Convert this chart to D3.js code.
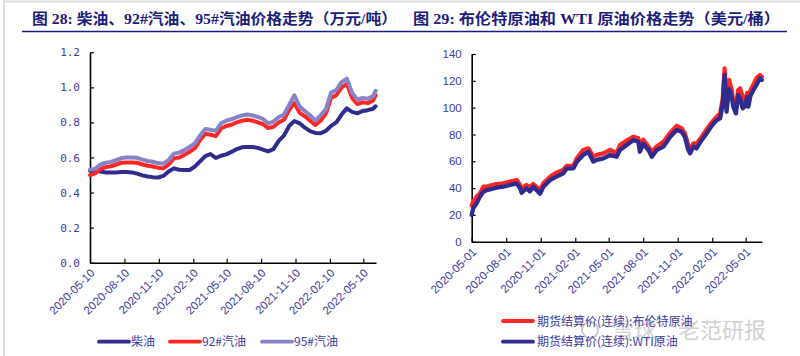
<!DOCTYPE html>
<html>
<head>
<meta charset="utf-8">
<script src="https://cdn.jsdelivr.net/npm/d3@7"></script>
<style>
  html, body { margin: 0; padding: 0; background: #fff; }
  svg { display: block; }
</style>
</head>
<body>
<script>
// ---------------- Left chart data (万元/吨) ----------------
const leftDates = [
  "2020-05-10","2020-05-24","2020-06-07","2020-06-21","2020-07-05","2020-07-19","2020-08-02","2020-08-16",
  "2020-08-30","2020-09-13","2020-09-27","2020-10-11","2020-10-25","2020-11-08","2020-11-22","2020-12-06",
  "2020-12-20","2021-01-03","2021-01-17","2021-01-31","2021-02-14","2021-02-28","2021-03-14","2021-03-28",
  "2021-04-11","2021-04-25","2021-05-09","2021-05-23","2021-06-06","2021-06-20","2021-07-04","2021-07-18",
  "2021-08-01","2021-08-15","2021-08-29","2021-09-12","2021-09-26","2021-10-10","2021-10-24","2021-11-07",
  "2021-11-21","2021-12-05","2021-12-19","2022-01-02","2022-01-16","2022-01-30","2022-02-13","2022-02-27",
  "2022-03-13","2022-03-27","2022-04-10","2022-04-24","2022-05-08","2022-05-22","2022-06-05","2022-06-12"
];
const diesel = [
  0.525,0.525,0.520,0.515,0.515,0.515,0.517,0.517,
  0.515,0.508,0.498,0.492,0.488,0.486,0.495,0.520,
  0.538,0.530,0.529,0.529,0.548,0.578,0.608,0.620,
  0.597,0.610,0.618,0.632,0.648,0.658,0.660,0.660,
  0.655,0.645,0.635,0.648,0.695,0.725,0.780,0.808,
  0.795,0.770,0.750,0.740,0.738,0.752,0.780,0.800,
  0.845,0.880,0.860,0.852,0.865,0.870,0.878,0.892
];
const gas92 = [
  0.500,0.510,0.535,0.545,0.550,0.560,0.570,0.572,
  0.572,0.570,0.560,0.553,0.549,0.542,0.538,0.560,
  0.595,0.600,0.615,0.633,0.652,0.700,0.735,0.730,
  0.722,0.765,0.780,0.787,0.800,0.810,0.815,0.810,
  0.800,0.790,0.768,0.775,0.800,0.815,0.870,0.910,
  0.855,0.835,0.810,0.785,0.810,0.850,0.940,0.955,
  1.000,1.020,0.940,0.905,0.915,0.910,0.925,0.955
];
const gas95 = [
  0.530,0.535,0.560,0.570,0.575,0.585,0.597,0.600,
  0.600,0.598,0.588,0.580,0.576,0.568,0.565,0.585,
  0.622,0.628,0.642,0.660,0.680,0.725,0.762,0.758,
  0.752,0.795,0.810,0.818,0.830,0.840,0.845,0.840,
  0.832,0.820,0.795,0.805,0.830,0.845,0.900,0.955,
  0.890,0.865,0.840,0.810,0.840,0.875,0.970,0.985,
  1.030,1.050,0.970,0.930,0.940,0.935,0.950,0.980
];
const leftTicks = ["2020-05-10","2020-08-10","2020-11-10","2021-02-10","2021-05-10","2021-08-10","2021-11-10","2022-02-10","2022-05-10"];
const leftYTicks = [0,0.2,0.4,0.6,0.8,1.0,1.2];
const leftNames = ["柴油","92#汽油","95#汽油"];

// ---------------- Right chart data (美元/桶) ----------------
const rightDates = [
  "2020-05-01","2020-05-05","2020-05-14","2020-05-23","2020-06-01","2020-06-10","2020-06-19","2020-07-06",
  "2020-07-24","2020-08-11","2020-08-29","2020-09-07","2020-09-11","2020-09-24","2020-10-03","2020-10-12",
  "2020-10-25","2020-10-30","2020-11-08","2020-11-26","2020-12-13","2020-12-31","2021-01-09","2021-01-27",
  "2021-02-05","2021-02-22","2021-03-08","2021-03-21","2021-03-30","2021-04-17","2021-05-05","2021-05-22",
  "2021-05-31","2021-06-18","2021-07-06","2021-07-19","2021-07-23","2021-08-01","2021-08-15","2021-08-24",
  "2021-09-06","2021-09-24","2021-10-12","2021-10-29","2021-11-11","2021-11-20","2021-11-29","2021-12-04",
  "2021-12-13","2021-12-21","2022-01-04","2022-01-17","2022-01-30","2022-02-13","2022-02-22","2022-03-01",
  "2022-03-06","2022-03-11","2022-03-18","2022-03-25","2022-03-29","2022-04-05","2022-04-11","2022-04-16",
  "2022-04-23","2022-04-29","2022-05-05","2022-05-08","2022-05-14","2022-05-21","2022-05-30","2022-06-08",
  "2022-06-13"
];
const brent = [
  27.0,30.0,33.6,36.0,41.0,41.0,41.8,43.0,
  43.5,44.8,46.0,42.3,39.8,42.3,40.5,43.0,
  39.8,38.5,43.5,48.5,51.5,53.5,56.5,56.5,
  62.2,68.4,69.6,63.4,64.7,65.9,68.4,66.0,
  72.1,75.4,78.3,77.1,70.9,76.0,70.9,67.1,
  71.0,74.6,81.3,86.3,84.6,80.8,72.1,68.9,
  73.4,73.0,78.3,83.8,88.8,93.3,95.7,107.0,
  129.3,102.0,120.6,113.0,104.4,99.5,113.0,114.4,
  108.0,104.4,111.0,106.0,113.0,117.0,122.0,124.3,
  123.0
];
const wti = [
  20.0,25.0,28.6,33.6,37.3,38.5,39.0,40.3,
  41.0,42.3,43.5,39.8,36.5,39.8,37.5,41.0,
  37.3,35.8,41.0,46.0,48.5,51.0,54.5,54.7,
  59.7,64.7,67.1,59.7,61.0,62.2,64.7,63.4,
  68.4,72.1,75.9,74.6,67.1,73.0,68.4,63.4,
  68.4,70.9,78.3,83.3,82.1,78.3,68.4,65.9,
  70.9,69.6,75.9,80.8,86.3,90.8,92.0,103.0,
  124.3,97.0,114.0,108.0,100.7,95.7,109.4,107.0,
  99.5,101.0,108.0,100.7,109.0,113.0,117.0,122.0,
  120.6
];
const rightTicks = ["2020-05-01","2020-08-01","2020-11-01","2021-02-01","2021-05-01","2021-08-01","2021-11-01","2022-02-01","2022-05-01"];
const rightYTicks = [0,20,40,60,80,100,120,140];
const rightNames = ["期货结算价(连续):布伦特原油","期货结算价(连续):WTI原油"];

// ---------------- Styles ----------------
const cNavy = "#2f2b8f", cRed = "#ff2626", cPurple = "#8783c6";
const labelColor = "#3d3aa0";
const titleColor = "#1c1c7c";

const parse = d3.utcParse("%Y-%m-%d");
const fmt = d3.utcFormat("%Y-%m-%d");

const svg = d3.select("body").append("svg").attr("width", 800).attr("height", 356);

// page frame
svg.append("line").attr("x1", 4).attr("y1", 0).attr("x2", 4).attr("y2", 356)
  .attr("stroke", "#dcdcdc").attr("stroke-width", 2);
svg.append("line").attr("x1", 4).attr("y1", 1.5).attr("x2", 800).attr("y2", 1.5)
  .attr("stroke", "#dcdcdc").attr("stroke-width", 2);

// titles
function title(x, w, txt) {
  svg.append("text").attr("x", x).attr("y", 24)
    .attr("textLength", w).attr("lengthAdjust", "spacingAndGlyphs")
    .style("font-family", "'Liberation Serif','Noto Sans CJK SC',serif")
    .style("font-weight", "bold").style("font-size", "14.5px")
    .attr("fill", titleColor).text(txt);
}
title(32, 365, "图 28:  柴油、92#汽油、95#汽油价格走势（万元/吨）");
title(413, 367, "图 29:  布伦特原油和 WTI 原油价格走势（美元/桶）");
svg.append("line").attr("x1", 22).attr("x2", 787).attr("y1", 31.5).attr("y2", 31.5)
  .attr("stroke", titleColor).attr("stroke-width", 1.5);

function styleAxis(g, fontFamily, fontSize) {
  g.select(".domain").attr("stroke", "#000").attr("stroke-width", 1.6);
  g.selectAll(".tick line").attr("stroke", "#000").attr("stroke-width", 1.2);
  g.selectAll(".tick text").attr("fill", labelColor)
    .style("font-family", fontFamily).style("font-size", fontSize);
}

// ---------------- Left chart ----------------
{
  const x = d3.scaleUtc().domain([parse("2020-05-10"), parse("2022-06-13")]).range([90, 376]);
  const y = d3.scaleLinear().domain([0, 1.2]).range([262.7, 52.3]);

  const gy = svg.append("g").attr("transform", "translate(90,0)")
    .call(d3.axisLeft(y).tickValues(leftYTicks).tickFormat(d3.format(".1f")).tickSize(-4).tickSizeOuter(0).tickPadding(10));
  styleAxis(gy, "'DejaVu Sans Mono',monospace", "11px");

  const gx = svg.append("g").attr("transform", "translate(0,262.7)")
    .call(d3.axisBottom(x).tickValues(leftTicks.map(parse)).tickFormat(fmt).tickSize(-4).tickSizeOuter(0));
  styleAxis(gx, "'Liberation Sans',Arial,sans-serif", "11.5px");
  gx.selectAll(".tick text").attr("x", 0).attr("y", 0).attr("dy", null)
    .attr("text-anchor", "end").attr("transform", "translate(5,11) rotate(-45)");

  const series = [
    { name: leftNames[0], vals: diesel, color: cNavy },
    { name: leftNames[1], vals: gas92, color: cRed },
    { name: leftNames[2], vals: gas95, color: cPurple }
  ];
  const line = d3.line().x(d => x(d.date)).y(d => y(d.v)).curve(d3.curveLinear);
  series.forEach(s => {
    const pts = leftDates.map((d, i) => ({ date: parse(d), v: s.vals[i] }));
    svg.append("path").datum(pts).attr("d", line)
      .attr("fill", "none").attr("stroke", s.color).attr("stroke-width", 4)
      .attr("stroke-linejoin", "round").attr("stroke-linecap", "round");
  });

  // legend
  const legX = [99, 170, 262];
  series.forEach((s, i) => {
    svg.append("line").attr("x1", legX[i]).attr("x2", legX[i] + 30).attr("y1", 341.7).attr("y2", 341.7)
      .attr("stroke", s.color).attr("stroke-width", 3.8).attr("stroke-linecap", "round");
    svg.append("text").attr("x", legX[i] + 32).attr("y", 346)
      .style("font-family", "'Noto Sans CJK SC','Liberation Sans',sans-serif").style("font-size", "12px")
      .attr("fill", labelColor).text(s.name);
  });
}

// ---------------- Right chart ----------------
{
  const x = d3.scaleUtc().domain([parse("2020-05-01"), parse("2022-06-13")]).range([471.7, 761.8]);
  const y = d3.scaleLinear().domain([0, 140]).range([241.7, 54]);

  const gy = svg.append("g").attr("transform", "translate(471.7,0)")
    .call(d3.axisLeft(y).tickValues(rightYTicks).tickFormat(d3.format("d")).tickSize(-4).tickSizeOuter(0).tickPadding(10));
  styleAxis(gy, "'Liberation Sans',Arial,sans-serif", "11.5px");

  const gx = svg.append("g").attr("transform", "translate(0,241.7)")
    .call(d3.axisBottom(x).tickValues(rightTicks.map(parse)).tickFormat(fmt).tickSize(-4).tickSizeOuter(0));
  styleAxis(gx, "'Liberation Sans',Arial,sans-serif", "11.5px");
  gx.selectAll(".tick text").attr("x", 0).attr("y", 0).attr("dy", null)
    .attr("text-anchor", "end").attr("transform", "translate(5,11) rotate(-45)");

  const series = [
    { name: rightNames[0], vals: brent, color: cRed },
    { name: rightNames[1], vals: wti, color: cNavy }
  ];
  const line = d3.line().x(d => x(d.date)).y(d => y(d.v));
  series.forEach(s => {
    const pts = rightDates.map((d, i) => ({ date: parse(d), v: s.vals[i] }));
    svg.append("path").datum(pts).attr("d", line)
      .attr("fill", "none").attr("stroke", s.color).attr("stroke-width", 4.3)
      .attr("stroke-linejoin", "round").attr("stroke-linecap", "round");
  });

  // watermark
  svg.append("circle").attr("cx", 590).attr("cy", 330).attr("r", 8)
    .attr("fill", "none").attr("stroke", "#c8c8c8").attr("stroke-width", 2);
  svg.append("text").attr("x", 612).attr("y", 338)
    .style("font-family", "'Noto Sans CJK SC',sans-serif").style("font-size", "22px")
    .attr("fill", "#c8c8c8").attr("fill-opacity", 0.85).text("雪球：老范研报");

  // legend
  const legY = [321, 341.7];
  series.forEach((s, i) => {
    svg.append("line").attr("x1", 503).attr("x2", 533).attr("y1", legY[i]).attr("y2", legY[i])
      .attr("stroke", s.color).attr("stroke-width", 3.8).attr("stroke-linecap", "round");
    svg.append("text").attr("x", 537).attr("y", legY[i] + 4.5)
      .style("font-family", "'Noto Sans CJK SC','DejaVu Sans Mono',sans-serif").style("font-size", "12px")
      .attr("fill", labelColor).text(s.name);
  });
}
</script>
</body>
</html>
